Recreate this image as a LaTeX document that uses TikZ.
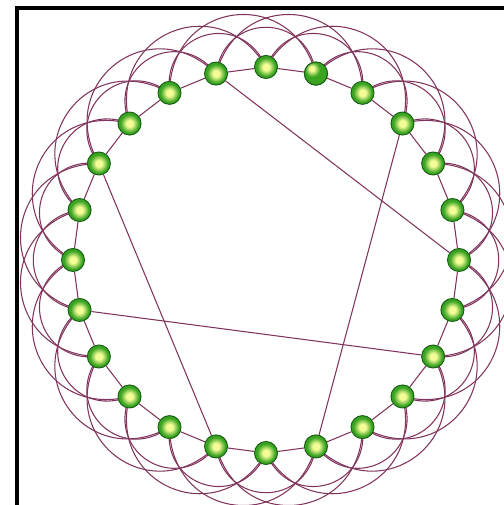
\documentclass[tikz,border=0pt]{standalone}
\usepackage{tikz}
\usetikzlibrary{backgrounds,calc}
\usepackage{xcolor}
\definecolor{linkpurple}{RGB}{128,52,92}
\definecolor{ballgreen}{RGB}{58,164,34}
\definecolor{balldark}{RGB}{26,96,20}
\definecolor{ballcore}{RGB}{244,252,150}
\pgfdeclareradialshading{ringball}{\pgfpoint{0bp}{0bp}}{%
  color(0bp)=(ballcore); color(7bp)=(ballcore); color(20bp)=(ballgreen);
  color(36bp)=(ballgreen); color(50bp)=(balldark)}
\pgfdeclareradialshading{glintball}{\pgfpoint{-10bp}{12bp}}{%
  color(0bp)=(ballcore); color(5bp)=(ballcore); color(16bp)=(ballgreen);
  color(40bp)=(ballgreen); color(60bp)=(balldark)}

\begin{document}
\begin{tikzpicture}[
    x=0.5mm, y=0.5mm,
    vertex/.style={circle, draw=balldark, line width=1.4pt, shading=ringball,
                   minimum size=11.5mm, inner sep=0pt},
    link/.style={linkpurple, line width=1.5pt},
    hop/.style={link, bend right=82, looseness=1.6}
]
\useasboundingbox (0,0) rectangle (504,505);
\draw[line width=5pt] (17,0) -- (17,497) -- (504,497);

% ring of 24 vertices, counterclockwise from the top
\foreach \i in {0,...,23}
  \node[vertex] (v\i) at ({266+193*cos(90+15*\i)},{245+193*sin(90+15*\i)}) {};
\node[vertex, shading=glintball] at (v23) {};

\begin{scope}[on background layer]
\foreach \i in {0,...,23} {
  \pgfmathtruncatemacro{\ja}{mod(\i+1,24)}
  \pgfmathtruncatemacro{\jb}{mod(\i+2,24)}
  \pgfmathtruncatemacro{\jc}{mod(\i+3,24)}
  \draw[link] (v\i) -- (v\ja);
  \draw[hop] (v\i.center) to (v\jb.center);
  \draw[hop] (v\i.center) to (v\jc.center);
}
% rewired shortcuts
\draw[link] (v1) -- (v18);
\draw[link] (v21) -- (v13);
\draw[link] (v4) -- (v11);
\draw[link] (v7) -- (v16);
\end{scope}
\end{tikzpicture}
\end{document}
